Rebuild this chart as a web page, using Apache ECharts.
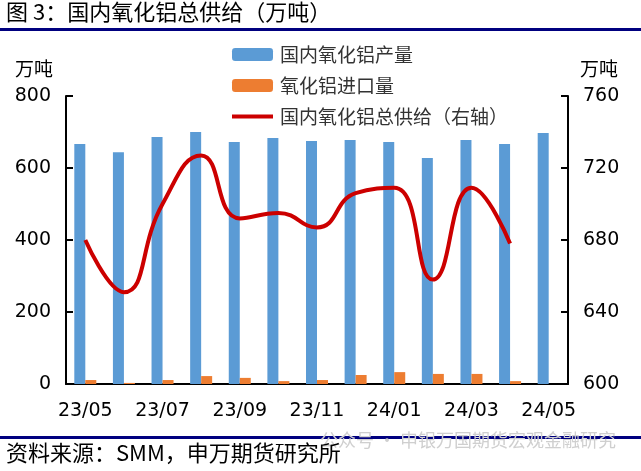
<!DOCTYPE html>
<html>
<head>
<meta charset="utf-8">
<script src="https://cdn.jsdelivr.net/npm/echarts@6/dist/echarts.min.js"></script>
<style>
  html, body { margin: 0; padding: 0; background: #fff; }
  #chart { width: 641px; height: 471px; }
</style>
</head>
<body>
<div id="chart"></div>
<script>
(function(){
	var months = ['23/05','23/06','23/07','23/08','23/09','23/10','23/11','23/12','24/01','24/02','24/03','24/04','24/05'];
	// 国内氧化铝产量 (万吨)
	var output = [667, 644, 686, 700, 672, 683, 675, 678, 672, 628, 678, 667, 697];
	// 氧化铝进口量 (万吨)
	var imports = [11, 3, 11, 22, 17, 8, 11, 25, 33, 28, 28, 8, null];
	// 国内氧化铝总供给 (右轴)
	var supply = [680, 651, 700, 727, 692, 695, 687, 706, 709, 658, 709, 678];

	var cjk = '"Noto Sans CJK SC", sans-serif';
	var num = '"DejaVu Sans", sans-serif';

	var option = {
		animation: false,
		backgroundColor: '#fff',
		grid: { left: 66, right: 73, top: 96, bottom: 87 },
		legend: {
			orient: 'vertical',
			left: 232,
			top: 45,
			padding: 0,
			itemWidth: 41,
			itemHeight: 13,
			itemGap: 12,
			textStyle: { fontFamily: cjk, fontSize: 19, color: '#333', padding: [0, 0, 0, 2] },
			data: [
				'国内氧化铝产量',
				'氧化铝进口量',
				{ name: '国内氧化铝总供给（右轴）', icon: 'path://M0,0 L41,0 L41,4 L0,4 Z' }
			]
		},
		xAxis: {
			type: 'category',
			data: months,
			axisLine: { lineStyle: { color: '#000', width: 2 } },
			axisTick: { interval: 1, length: 8, lineStyle: { color: '#000', width: 2 } },
			axisLabel: { interval: 1, margin: 18, fontFamily: num, fontSize: 19, color: '#000' }
		},
		yAxis: [
			{
				type: 'value', min: 0, max: 800, interval: 200,
				splitLine: { show: false },
				axisLine: { show: true, lineStyle: { color: '#000', width: 2 } },
				axisTick: { show: true, inside: true, length: 7, lineStyle: { color: '#000', width: 2 } },
				axisLabel: { margin: 15, fontFamily: num, fontSize: 19, color: '#000' }
			},
			{
				type: 'value', min: 600, max: 760, interval: 40,
				splitLine: { show: false },
				axisLine: { show: true, lineStyle: { color: '#000', width: 2 } },
				axisTick: { show: true, inside: true, length: 7, lineStyle: { color: '#000', width: 2 } },
				axisLabel: { margin: 15, fontFamily: num, fontSize: 19, color: '#000' }
			}
		],
		series: [
			{
				name: '国内氧化铝产量', type: 'bar', data: output,
				barWidth: 11, barGap: '0%',
				itemStyle: { color: '#5B9BD5' }
			},
			{
				name: '氧化铝进口量', type: 'bar', data: imports,
				barWidth: 11,
				itemStyle: { color: '#ED7D31' }
			},
			{
				name: '国内氧化铝总供给（右轴）', type: 'line', yAxisIndex: 1, data: supply,
				smooth: 0.5, symbol: 'none',
				lineStyle: { color: '#CC0000', width: 4 },
				itemStyle: { color: '#CC0000' }
			}
		],
		graphic: [
			{ type: 'text', left: 6, top: 1, style: { text: '图 3：国内氧化铝总供给（万吨）', font: '22px ' + cjk, fill: '#000' } },
			{ type: 'rect', left: 0, top: 28, shape: { width: 641, height: 3 }, style: { fill: '#00007F' } },
			{ type: 'text', left: 15, top: 59, style: { text: '万吨', font: '19px ' + cjk, fill: '#000' } },
			{ type: 'text', left: 580, top: 59, style: { text: '万吨', font: '19px ' + cjk, fill: '#000' } },
			{ type: 'rect', left: 0, top: 436, shape: { width: 641, height: 3 }, style: { fill: '#00007F' } },
			{ type: 'text', left: 320, top: 431, style: { text: '公众号 · 申银万国期货宏观金融研究', font: '18px ' + cjk, fill: '#cfcfcf' } },
			{ type: 'text', left: 6, top: 442, style: { text: '资料来源：SMM，申万期货研究所', font: '22px ' + cjk, fill: '#000' } }
		]
	};

	var chart = echarts.init(document.getElementById('chart'), null, { renderer: 'canvas' });
	chart.setOption(option);
})();
</script>
</body>
</html>
